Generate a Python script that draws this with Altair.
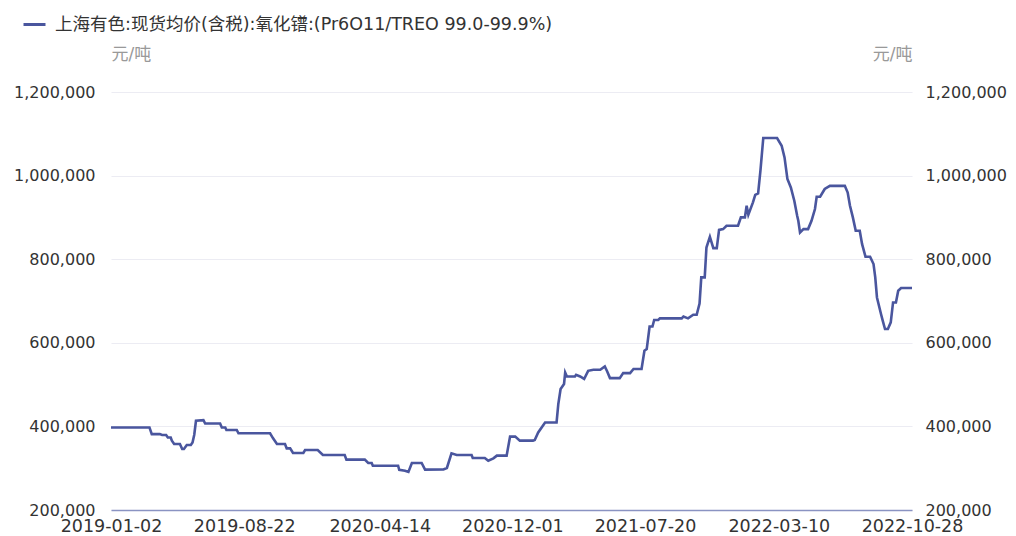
import altair as alt
import pandas as pd

series_name = "上海有色:现货均价(含税):氧化镨:(Pr6O11/TREO 99.0-99.9%)"
unit_label = "元/吨"
line_color = "#4a569e"

dates = [
    "2019-01-02", "2019-03-10", "2019-03-14", "2019-03-28", "2019-04-01", "2019-04-08",
    "2019-04-11", "2019-04-16", "2019-04-18", "2019-04-22", "2019-05-02", "2019-05-06",
    "2019-05-09", "2019-05-14", "2019-05-21", "2019-05-24", "2019-05-27", "2019-05-30",
    "2019-06-12", "2019-06-15", "2019-07-11", "2019-07-14", "2019-07-20", "2019-07-22",
    "2019-08-09", "2019-08-12", "2019-10-06", "2019-10-11", "2019-10-18", "2019-11-01",
    "2019-11-04", "2019-11-10", "2019-11-15", "2019-12-03", "2019-12-06", "2019-12-28",
    "2020-01-06", "2020-02-13", "2020-02-16", "2020-03-19", "2020-03-25", "2020-03-31",
    "2020-04-02", "2020-05-16", "2020-05-18", "2020-05-28", "2020-06-03", "2020-06-09",
    "2020-06-26", "2020-07-02", "2020-08-03", "2020-08-09", "2020-08-17", "2020-08-26",
    "2020-09-21", "2020-09-23", "2020-10-14", "2020-10-20", "2020-10-29", "2020-11-04",
    "2020-11-21", "2020-11-27", "2020-12-06", "2020-12-14", "2021-01-06", "2021-01-09",
    "2021-01-15", "2021-01-27", "2021-02-16", "2021-02-19", "2021-02-23", "2021-03-01",
    "2021-03-03", "2021-03-06", "2021-03-20", "2021-03-22", "2021-03-29", "2021-04-05",
    "2021-04-12", "2021-04-21", "2021-05-03", "2021-05-11", "2021-05-15", "2021-05-20",
    "2021-06-06", "2021-06-12", "2021-06-24", "2021-06-30", "2021-07-14", "2021-07-19",
    "2021-07-23", "2021-07-28", "2021-08-02", "2021-08-05", "2021-08-12", "2021-08-15",
    "2021-09-22", "2021-09-25", "2021-10-03", "2021-10-12", "2021-10-18", "2021-10-23",
    "2021-10-26", "2021-11-01", "2021-11-04", "2021-11-10", "2021-11-16", "2021-11-22",
    "2021-11-26", "2021-12-03", "2021-12-09", "2021-12-29", "2022-01-03", "2022-01-10",
    "2022-01-13", "2022-01-16", "2022-01-24", "2022-01-28", "2022-02-02", "2022-02-06",
    "2022-02-11", "2022-03-07", "2022-03-15", "2022-03-20", "2022-03-25", "2022-03-31",
    "2022-04-06", "2022-04-11", "2022-04-13", "2022-04-16", "2022-04-22", "2022-04-30",
    "2022-05-06", "2022-05-12", "2022-05-15", "2022-05-21", "2022-05-29", "2022-06-07",
    "2022-07-03", "2022-07-08", "2022-07-12", "2022-07-17", "2022-07-22", "2022-07-29",
    "2022-08-02", "2022-08-08", "2022-08-16", "2022-08-22", "2022-08-25", "2022-08-28",
    "2022-09-04", "2022-09-07", "2022-09-11", "2022-09-16", "2022-09-21", "2022-09-25",
    "2022-09-30", "2022-10-04", "2022-10-09", "2022-10-28",
]

prices = [
    397500, 397500, 381500, 381500, 379500, 379500,
    373500, 373500, 366000, 358000, 358000, 346000,
    346000, 355500, 355500, 361500, 380000, 413500,
    415000, 407000, 407000, 397500, 397500, 391500,
    391500, 383500, 383500, 372000, 358000, 358000,
    347500, 347500, 336500, 336500, 343500, 343500,
    331500, 331500, 320500, 320500, 312500, 312500,
    306000, 306000, 296000, 294000, 291000, 312500,
    312500, 296500, 297000, 300500, 335500, 331500,
    331500, 324500, 324500, 318000, 323500, 330000,
    330000, 375500, 375500, 366000, 366000, 367500,
    385500, 409500, 409500, 453500, 489500, 501500,
    529000, 519500, 519500, 523500, 519500, 513500,
    533000, 535500, 535500, 543500, 532000, 515500,
    515500, 527500, 527500, 537500, 537500, 581000,
    585000, 639000, 639000, 654500, 654500, 658500,
    658500, 663000, 658500, 667000, 667000, 694000,
    756500, 756500, 828000, 853500, 826500, 826500,
    870000, 872000, 880000, 880000, 900000, 900000,
    928000, 906500, 936000, 954000, 957500, 1011500,
    1090000, 1090000, 1071500, 1043500, 992000, 971500,
    940000, 904000, 892000, 864000, 872000, 872000,
    892000, 920000, 949500, 949500, 968000, 975500,
    975500, 959500, 928000, 900000, 868000, 868000,
    836500, 806000, 806000, 788500, 756500, 708500,
    669000, 653000, 633000, 633000, 649000, 696500,
    696500, 724500, 731000, 731000,
]

tick_dates = ["2019-01-02", "2019-08-22", "2020-04-14", "2020-12-01",
              "2021-07-20", "2022-03-10", "2022-10-28"]
y_ticks = [200000, 400000, 600000, 800000, 1000000, 1200000]
y_domain = [200000, 1200000]

df = pd.DataFrame({"date": dates, "price": prices, "series": series_name})


def dt(s):
    y, m, d = (int(p) for p in s.split("-"))
    return alt.DateTime(year=y, month=m, date=d, utc=True)


font = "DejaVu Sans, Noto Sans CJK SC, sans-serif"
label_color = "#333333"
fs_x = 17.5
fs_y = 16

x_enc = alt.X(
    "date:T",
    title=None,
    scale=alt.Scale(type="utc", domain=[dt(dates[0]), dt(dates[-1])], nice=False),
    axis=alt.Axis(
        values=[dt(t) for t in tick_dates],
        format="%Y-%m-%d",
        labelFontSize=fs_x,
        labelColor=label_color,
        labelFlush=False,
        labelOverlap=False,
        labelPadding=7,
        ticks=False,
        grid=False,
        domain=True,
        domainColor="#8a93c2",
        domainWidth=1.5,
    ),
)

base = alt.Chart(df)

left = base.mark_line(strokeWidth=2.6, color=line_color).encode(
    x=x_enc,
    y=alt.Y(
        "price:Q",
        scale=alt.Scale(domain=y_domain, nice=False, zero=False),
        axis=alt.Axis(
            orient="left",
            values=y_ticks,
            format=",.0f",
            title=unit_label,
            titleAngle=0,
            titleAlign="left",
            titleBaseline="middle",
            titleX=0,
            titleY=-38,
            titleFontSize=17,
            titleFontWeight="normal",
            titleColor="#999999",
            labelFontSize=fs_y,
            labelColor=label_color,
            labelPadding=16,
            ticks=False,
            domain=False,
            grid=True,
            gridColor="#ececf3",
            gridWidth=1.2,
        ),
    ),
    color=alt.Color(
        "series:N",
        scale=alt.Scale(domain=[series_name], range=[line_color]),
        legend=alt.Legend(
            orient="none",
            legendX=-89,
            legendY=-80,
            title=None,
            symbolType="stroke",
            symbolStrokeWidth=3,
            symbolSize=484,
            labelFontSize=17.5,
            labelColor=label_color,
            labelOffset=8,
            labelLimit=900,
            padding=0,
        ),
    ),
)

right = base.mark_line(opacity=0).encode(
    x=x_enc,
    y=alt.Y(
        "price:Q",
        scale=alt.Scale(domain=y_domain, nice=False, zero=False),
        axis=alt.Axis(
            orient="right",
            values=y_ticks,
            format=",.0f",
            title=unit_label,
            titleAngle=0,
            titleAlign="right",
            titleBaseline="middle",
            titleX=0,
            titleY=-38,
            titleFontSize=17,
            titleFontWeight="normal",
            titleColor="#999999",
            labelFontSize=fs_y,
            labelColor=label_color,
            labelPadding=13,
            ticks=False,
            domain=False,
            grid=False,
        ),
    ),
)

chart = (
    alt.layer(left, right)
    .resolve_scale(y="independent")
    .properties(
        width=801,
        height=418,
        autosize=alt.AutoSizeParams(type="none"),
        padding={"left": 103, "top": 84, "right": 96, "bottom": 26},
    )
    .configure(font=font)
    .configure_view(stroke=None)
)

chart.save("out.html", embed_options={"renderer": "svg", "actions": False})
